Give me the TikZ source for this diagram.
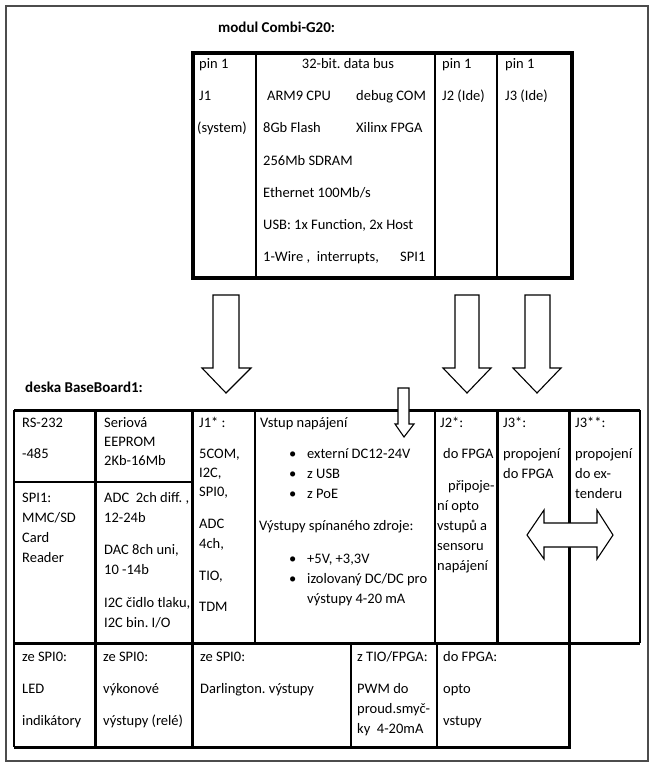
\documentclass[tikz,border=0pt]{standalone}
\usepackage{fontspec}
\setmainfont{Carlito}
\frenchspacing
\begin{document}
\begin{tikzpicture}[x=1pt,y=-1pt,
  tx/.style={anchor=base west, inner sep=0pt, font=\fontsize{14.5}{18}\selectfont},
  txc/.style={tx, anchor=base},
  hd/.style={anchor=base west, inner sep=0pt, font=\bfseries\fontsize{15}{18}\selectfont},
  thk/.style={line width=3pt},
  med/.style={line width=2pt},
  thn/.style={line width=1.1pt},
  blk/.style={draw=black, fill=white, line width=1.1pt, line join=miter}]
\useasboundingbox (0,0) rectangle (658,768);
\draw[black!70, line width=1.2pt] (6,6) rectangle (648,761);

% ---- module Combi-G20 ----
\node[hd] (title1) at (218,33) {modul Combi-G20:};
\draw[line width=3.5pt] (193,53) rectangle (572,278);
\draw[med] (256,53) -- (256,278);
\draw[thn] (435,53) -- (435,278);
\draw[med] (497,53) -- (497,278);

\node[tx] (m1) at (199,68) {pin 1};
\node[tx] (m2) at (199,100) {J1};
\node[tx] (m3) at (197,132) {(system)};
\node[txc] (m4) at (348,68) {32-bit. data bus};
\node[tx] (m5) at (267,100) {ARM9 CPU};
\node[tx] (m6) at (356,100) {debug COM};
\node[tx] (m7) at (263,132) {8Gb Flash};
\node[tx] (m8) at (356,132) {Xilinx FPGA};
\node[tx] (m9) at (263,165) {256Mb SDRAM};
\node[tx] (m10) at (263,197) {Ethernet 100Mb/s};
\node[tx] (m11) at (263,229) {USB: 1x Function, 2x Host};
\node[tx] (m12) at (263,261) {1-Wire ,\ \ interrupts,};
\node[tx] (m13) at (400,261) {SPI1};
\node[tx] (m14) at (442,68) {pin 1};
\node[tx] (m15) at (442,100) {J2 (Ide)};
\node[tx] (m16) at (505,68) {pin 1};
\node[tx] (m17) at (505,100) {J3 (Ide)};

% ---- BaseBoard1 ----
\node[hd] (title2) at (25,392) {deska BaseBoard1:};
\draw[thn] (14,410) -- (14,747);
\draw[thk] (14,410) -- (640,410);
\draw[thn] (640,410) -- (640,643);
\draw[thk] (14,643) -- (640,643);
\draw[thk] (14,747) -- (569,747) -- (569,643);
\draw[thk] (95,410) -- (95,747);
\draw[thk] (192,410) -- (192,747);
\draw[thn] (255,410) -- (255,643);
\draw[thn] (435,410) -- (435,643);
\draw[thk] (497,410) -- (497,643);
\draw[thk] (569,410) -- (569,643);
\draw[thn] (14,482) -- (192,482);
\draw[thn] (351,643) -- (351,747);
\draw[thn] (437,643) -- (437,747);

% column A
\node[tx] (a1) at (22,427) {RS-232};
\node[tx] (a2) at (22,458) {-485};
\node[tx] (a3) at (22,502) {SPI1:};
\node[tx] (a4) at (22,522) {MMC/SD};
\node[tx] (a5) at (22,542) {Card};
\node[tx] (a6) at (22,562) {Reader};
% column B
\node[tx] (b1) at (104,427) {Seriová};
\node[tx] (b2) at (104,446) {EEPROM};
\node[tx] (b3) at (104,465) {2Kb-16Mb};
\node[tx] (b4) at (104,502) {ADC\ \ 2ch diff. ,};
\node[tx] (b5) at (104,522) {12-24b};
\node[tx] (b6) at (104,554) {DAC 8ch uni,};
\node[tx] (b7) at (104,574) {10 -14b};
\node[tx] (b8) at (104,607) {I2C čidlo tlaku,};
\node[tx] (b9) at (104,627) {I2C bin. I/O};
% column C
\node[tx] (c1) at (199,427) {J1* :};
\node[tx] (c2) at (199,458) {5COM,};
\node[tx] (c3) at (199,477) {I2C,};
\node[tx] (c4) at (199,496) {SPI0,};
\node[tx] (c5) at (199,528) {ADC};
\node[tx] (c6) at (199,548) {4ch,};
\node[tx] (c7) at (199,580) {TIO,};
\node[tx] (c8) at (199,611) {TDM};
% column D
\node[tx] (d1) at (260,427) {Vstup napájení};
\node[tx] (d2b) at (289,458) {\textbullet};
\node[tx] (d2) at (307,458) {externí DC12-24V};
\node[tx] (d3b) at (289,478) {\textbullet};
\node[tx] (d3) at (307,478) {z USB};
\node[tx] (d4b) at (289,498) {\textbullet};
\node[tx] (d4) at (307,498) {z PoE};
\node[tx] (d5) at (259,530) {Výstupy spínaného zdroje:};
\node[tx] (d6b) at (289,563) {\textbullet};
\node[tx] (d6) at (307,563) {+5V, +3,3V};
\node[tx] (d7b) at (289,583) {\textbullet};
\node[tx] (d7) at (307,583) {izolovaný DC/DC pro};
\node[tx] (d8) at (307,603) {výstupy 4-20 mA};
% column E
\node[tx] (e1) at (440,427) {J2*:};
\node[tx] (e2) at (443,458) {do FPGA};
\node[tx] (e3) at (448,490) {připoje-};
\node[tx] (e4) at (437,510) {ní opto};
\node[tx] (e5) at (437,530) {vstupů a};
\node[tx] (e6) at (437,550) {sensoru};
\node[tx] (e7) at (437,570) {napájení};
% column F
\node[tx] (f1) at (503,427) {J3*:};
\node[tx] (f2) at (503,458) {propojení};
\node[tx] (f3) at (503,478) {do FPGA};
% column G
\node[tx] (g1) at (575,427) {J3**:};
\node[tx] (g2) at (575,458) {propojení};
\node[tx] (g3) at (575,478) {do ex-};
\node[tx] (g4) at (575,498) {tenderu};

% bottom row
\node[tx] (h1) at (22,661) {ze SPI0:};
\node[tx] (h2) at (22,693) {LED};
\node[tx] (h3) at (22,725) {indikátory};
\node[tx] (i1) at (103,661) {ze SPI0:};
\node[tx] (i2) at (103,693) {výkonové};
\node[tx] (i3) at (103,725) {výstupy (relé)};
\node[tx] (j1) at (200,661) {ze SPI0:};
\node[tx] (j2) at (200,693) {Darlington. výstupy};
\node[tx] (k1) at (357,661) {z TIO/FPGA:};
\node[tx] (k2) at (357,693) {PWM do};
\node[tx] (k3) at (357,713) {proud.smyč-};
\node[tx] (k4) at (357,733) {ky\ \ 4-20mA};
\node[tx] (l1) at (443,661) {do FPGA:};
\node[tx] (l2) at (443,693) {opto};
\node[tx] (l3) at (443,725) {vstupy};

% ---- block arrows ----
\draw[blk] (213,295) -- (239,295) -- (239,368) -- (251,368) -- (226,393) -- (202,368) -- (213,368) -- cycle;
\draw[blk] (455,295) -- (479,295) -- (479,368) -- (491,368) -- (467,393) -- (443,368) -- (455,368) -- cycle;
\draw[blk] (525,295) -- (550,295) -- (550,368) -- (561,368) -- (537,393) -- (513,368) -- (525,368) -- cycle;
\draw[blk] (398,388) -- (409,388) -- (409,424) -- (414,424) -- (404,437) -- (395,424) -- (398,424) -- cycle;
\draw[blk] (527,535) -- (544,510) -- (544,523) -- (597,523) -- (597,510) -- (613,535) -- (597,559) -- (597,547) -- (544,547) -- (544,559) -- cycle;
\end{tikzpicture}
\end{document}
